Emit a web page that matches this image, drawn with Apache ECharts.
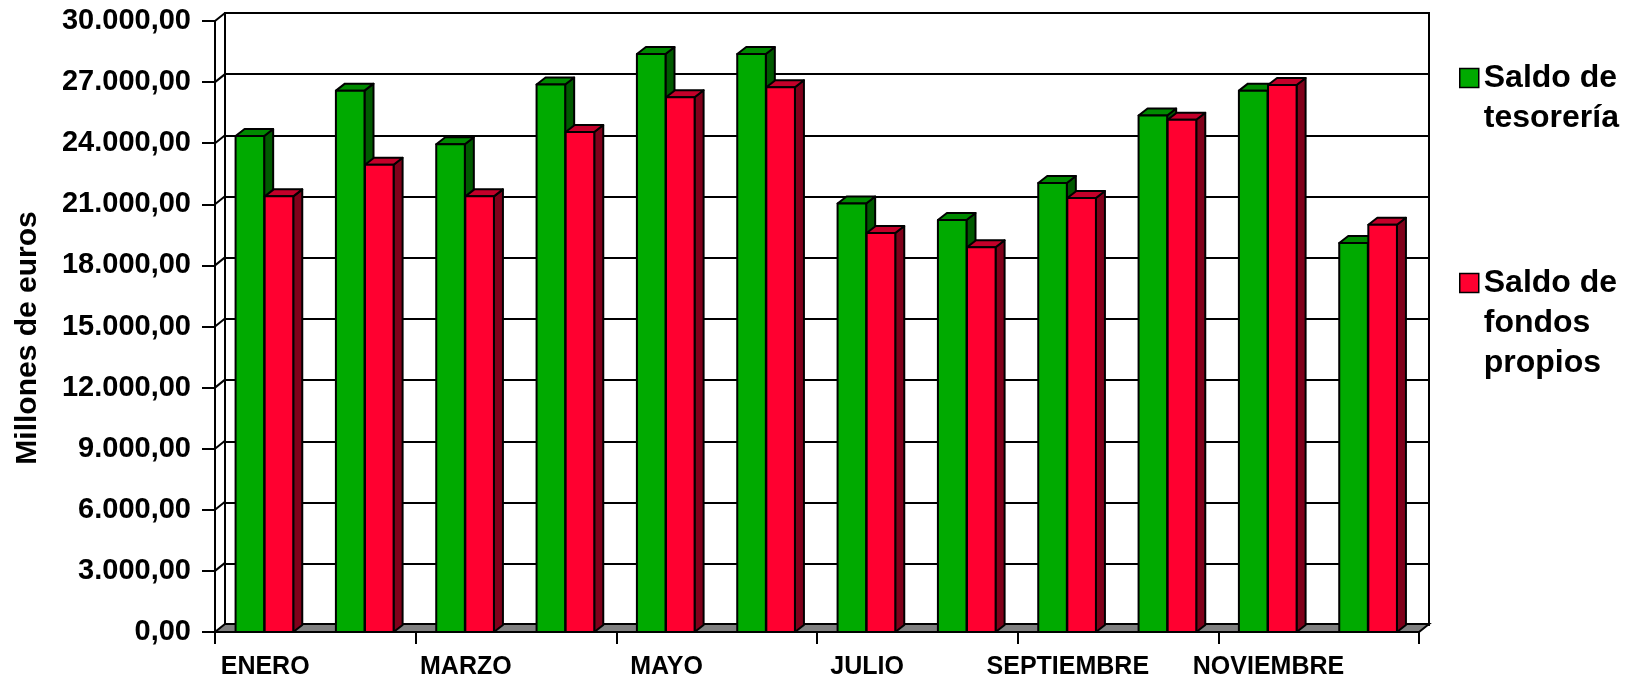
<!DOCTYPE html>
<html>
<head>
<meta charset="utf-8">
<script src="https://cdn.jsdelivr.net/npm/echarts@6/dist/echarts.min.js"></script>
<style>
html,body{margin:0;padding:0;background:#fff;}
#chart{width:1641px;height:680px;}
</style>
</head>
<body>
<div id="chart"></div>
<script>
// ---------- data ----------
const months = ['ENERO','FEBRERO','MARZO','ABRIL','MAYO','JUNIO','JULIO','AGOSTO','SEPTIEMBRE','OCTUBRE','NOVIEMBRE','DICIEMBRE'];
const saldoTesoreria = [24350, 26580, 23950, 26880, 28380, 28380, 21040, 20230, 22050, 25360, 26580, 19100];
const saldoFondosPropios = [21390, 22940, 21390, 24550, 26260, 26750, 19590, 18890, 21310, 25150, 26860, 20000];
const yTicks = [0, 3000, 6000, 9000, 12000, 15000, 18000, 21000, 24000, 27000, 30000];
const seriesNames = ['Saldo de\ntesorería', 'Saldo de\nfondos\npropios'];
const yAxisTitle = 'Millones de euros';

// ---------- styling ----------
const FONT = '"Liberation Sans", Arial, sans-serif';
const BAR_DX = 9, BAR_DY = -7;     // bar depth
const WALL_DX = 10, WALL_DY = -8;  // wall / floor depth
const GREEN = {front:'#00AA00', top:'#008A00', side:'#005A00'};
const RED = {front:'#FF0030', top:'#C4002A', side:'#80001A'};

function fmt(v){
  const s = Math.round(v).toString().replace(/\B(?=(\d{3})+(?!\d))/g, '.');
  return s + ',00';
}

function barRenderer(colors, side){
  return function(params, api){
    const i = api.value(0), v = api.value(1);
    const t = api.coord([i, v]);
    const b = api.coord([i, 0]);
    const band = api.size([1, 0])[0];
    const w = band * 0.285;
    const x0 = side === 0 ? t[0] - w - 1 : t[0] - 0.5;
    const x1 = x0 + w;
    const yt = t[1], yb = b[1];
    const stroke = {stroke:'#000', lineWidth:2, lineJoin:'round'};
    return {
      type:'group',
      children:[
        {type:'polygon', shape:{points:[[x1,yb],[x1+BAR_DX,yb+BAR_DY],[x1+BAR_DX,yt+BAR_DY],[x1,yt]]},
          style:Object.assign({fill:colors.side}, stroke)},
        {type:'polygon', shape:{points:[[x0,yt],[x1,yt],[x1+BAR_DX,yt+BAR_DY],[x0+BAR_DX,yt+BAR_DY]]},
          style:Object.assign({fill:colors.top}, stroke)},
        {type:'rect', shape:{x:x0, y:yt, width:w, height:yb-yt},
          style:Object.assign({fill:colors.front}, stroke)}
      ]
    };
  };
}

function decorRenderer(params, api){
  const v = api.value(1);
  const cs = params.coordSys;
  const p = api.coord([0, v]);
  const x = cs.x, y = p[1];
  const children = [];
  if (v === 0) {
    const xr = cs.x + cs.width;
    children.push({type:'polygon', shape:{points:[[x,y],[xr,y],[xr+WALL_DX,y+WALL_DY],[x+WALL_DX,y+WALL_DY]]},
      style:{fill:'#808080', stroke:'#000', lineWidth:2}});
  } else {
    children.push({type:'line', shape:{x1:x, y1:y, x2:x+WALL_DX, y2:y+WALL_DY},
      style:{stroke:'#000', lineWidth:2}});
  }
  return {type:'group', children:children};
}

const chart = echarts.init(document.getElementById('chart'), null, {renderer:'canvas'});

const option = {
  backgroundColor:'#ffffff',
  animation:false,
  grid:[
    {left:215, top:21, width:1204, height:612, show:false},
    {left:215+WALL_DX, top:21+WALL_DY, width:1204, height:612, show:true,
      borderColor:'#000', borderWidth:2, backgroundColor:'#ffffff'}
  ],
  xAxis:[
    {type:'category', gridIndex:0, data:months, z:5,
      axisLine:{show:true, lineStyle:{color:'#000', width:2}},
      axisTick:{show:true, length:12, lineStyle:{color:'#000', width:2}},
      axisLabel:{interval:1, margin:23, color:'#000', fontFamily:FONT, fontWeight:'bold', fontSize:25},
      splitLine:{show:false}},
    {type:'category', gridIndex:1, data:months, show:false}
  ],
  yAxis:[
    {type:'value', gridIndex:0, min:0, max:30000, interval:3000, z:5,
      name:yAxisTitle, nameLocation:'middle', nameRotate:90, nameGap:172,
      nameTextStyle:{color:'#000', fontFamily:FONT, fontWeight:'bold', fontSize:30, padding:[0,23,0,0]},
      axisLine:{show:true, lineStyle:{color:'#000', width:2}},
      axisTick:{show:true, length:13, lineStyle:{color:'#000', width:2}},
      axisLabel:{margin:24, color:'#000', fontFamily:FONT, fontWeight:'bold', fontSize:29, formatter:fmt},
      splitLine:{show:false}},
    {type:'value', gridIndex:1, min:0, max:30000, interval:3000,
      axisLine:{show:false}, axisTick:{show:false}, axisLabel:{show:false},
      splitLine:{show:true, lineStyle:{color:'#000', width:2}}}
  ],
  legend:[
    {data:[seriesNames[0]], orient:'vertical', left:1459, top:18, padding:0,
      itemWidth:19, itemHeight:19, icon:'rect',
      itemStyle:{borderColor:'#000', borderWidth:1.5},
      formatter:function(n){return '\n' + n;},
      textStyle:{color:'#000', fontFamily:FONT, fontWeight:'bold', fontSize:32, lineHeight:40}},
    {data:[seriesNames[1]], orient:'vertical', left:1459, top:183, padding:0,
      itemWidth:19, itemHeight:19, icon:'rect',
      itemStyle:{borderColor:'#000', borderWidth:1.5},
      formatter:function(n){return '\n\n' + n;},
      textStyle:{color:'#000', fontFamily:FONT, fontWeight:'bold', fontSize:32, lineHeight:40}}
  ],
  series:[
    {type:'custom', name:'decor', xAxisIndex:0, yAxisIndex:0, z:1, silent:true,
      encode:{x:0, y:1},
      data:yTicks.map(function(v){return [0, v];}),
      renderItem:decorRenderer},
    {type:'custom', name:seriesNames[0], xAxisIndex:0, yAxisIndex:0, z:2,
      itemStyle:{color:GREEN.front},
      encode:{x:0, y:1},
      data:saldoTesoreria.map(function(v,i){return [i, v];}),
      renderItem:barRenderer(GREEN, 0)},
    {type:'custom', name:seriesNames[1], xAxisIndex:0, yAxisIndex:0, z:2,
      itemStyle:{color:RED.front},
      encode:{x:0, y:1},
      data:saldoFondosPropios.map(function(v,i){return [i, v];}),
      renderItem:barRenderer(RED, 1)}
  ]
};
chart.setOption(option);
</script>
</body>
</html>
